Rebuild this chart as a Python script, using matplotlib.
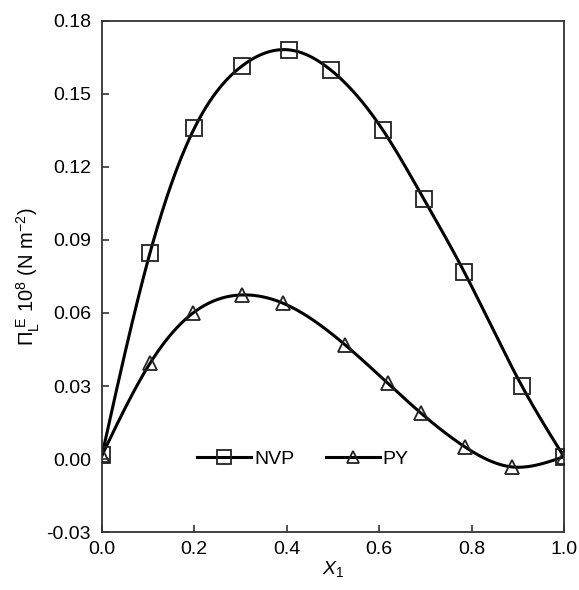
import matplotlib
matplotlib.use("Agg")
import matplotlib.pyplot as plt
import numpy as np

plt.rcParams['font.family'] = ['Liberation Sans', 'DejaVu Sans']
plt.rcParams['mathtext.fontset'] = 'custom'
plt.rcParams['mathtext.rm'] = 'Liberation Sans'
plt.rcParams['mathtext.it'] = 'Liberation Sans:italic'

# values
x_nvp = [0.0, 0.104, 0.2, 0.304, 0.405, 0.495, 0.608, 0.697, 0.784, 0.909, 1.0]
y_nvp = [0.0015, 0.0846, 0.1358, 0.1615, 0.168, 0.1598, 0.1351, 0.1067, 0.0769, 0.030, 0.001]

x_py = [0.0, 0.104, 0.198, 0.304, 0.392, 0.527, 0.619, 0.691, 0.785, 0.887, 1.0]
y_py = [0.0015, 0.0393, 0.0601, 0.0674, 0.0640, 0.0468, 0.0311, 0.0188, 0.0051, -0.0032, 0.001]

series = [("NVP", x_nvp, y_nvp, 's', 12), ("PY", x_py, y_py, '^', 10)]


def smooth(x, y, n=400):
    # natural cubic spline through the points, just for drawing the line
    x = np.asarray(x, float)
    y = np.asarray(y, float)
    m = len(x)
    h = np.diff(x)
    A = np.zeros((m, m))
    b = np.zeros(m)
    A[0, 0] = A[-1, -1] = 1
    for i in range(1, m - 1):
        A[i, i - 1] = h[i - 1]
        A[i, i] = 2 * (h[i - 1] + h[i])
        A[i, i + 1] = h[i]
        b[i] = 6 * ((y[i + 1] - y[i]) / h[i] - (y[i] - y[i - 1]) / h[i - 1])
    M = np.linalg.solve(A, b)
    xs = np.linspace(x[0], x[-1], n)
    k = np.clip(np.searchsorted(x, xs) - 1, 0, m - 2)
    t0 = x[k + 1] - xs
    t1 = xs - x[k]
    hk = h[k]
    ys = (M[k] * t0 ** 3 + M[k + 1] * t1 ** 3) / (6 * hk) \
        + (y[k] / hk - M[k] * hk / 6) * t0 + (y[k + 1] / hk - M[k + 1] * hk / 6) * t1
    return xs, ys


fig = plt.figure(figsize=(5.79, 5.90), dpi=100)
ax = fig.add_axes([0.176, 0.098, 0.798, 0.867])

for name, xd, yd, mk, ms in series:
    xs, ys = smooth(xd, yd)
    ax.plot(xs, ys, color='black', lw=2.2, zorder=2)
    ax.plot(xd, yd, ls='none', marker=mk, ms=ms, mfc='none', mec='#222222', mew=1.3, zorder=3)
    # legend proxy
    ax.plot([], [], color='black', lw=2.2, marker=mk, ms=ms * 0.8, mfc='none', mec='#222222', mew=1.3, label=name)

ax.set_xlim(0, 1.0)
ax.set_ylim(-0.03, 0.18)
ax.set_xticks(np.arange(0, 1.01, 0.2))
ax.set_yticks(np.arange(-0.03, 0.181, 0.03))
ax.set_xticklabels(['%.1f' % v for v in np.arange(0, 1.01, 0.2)])
ax.set_yticklabels(['%.2f' % v for v in np.arange(-0.03, 0.181, 0.03)])
ax.tick_params(direction='in', length=5, width=1.2, labelsize=14, color='#333333')
ax.tick_params(axis='y', pad=8)
ax.tick_params(axis='x', pad=6)
for s in ax.spines.values():
    s.set_linewidth(1.3)
    s.set_color('#333333')

ax.set_xlabel(r'$X_1$', fontsize=14, labelpad=1)
ax.set_ylabel(r'$\Pi_{\rm L}^{\ \rm E}$ 10$^8$ (N m$^{-2}$)', fontsize=14.5, labelpad=3)

ax.legend(loc='center', bbox_to_anchor=(0.435, 0.143), ncol=2, frameon=False,
          fontsize=14, handlelength=2.8, columnspacing=1.6, handletextpad=0.15)

fig.savefig('out.png', dpi=100)
